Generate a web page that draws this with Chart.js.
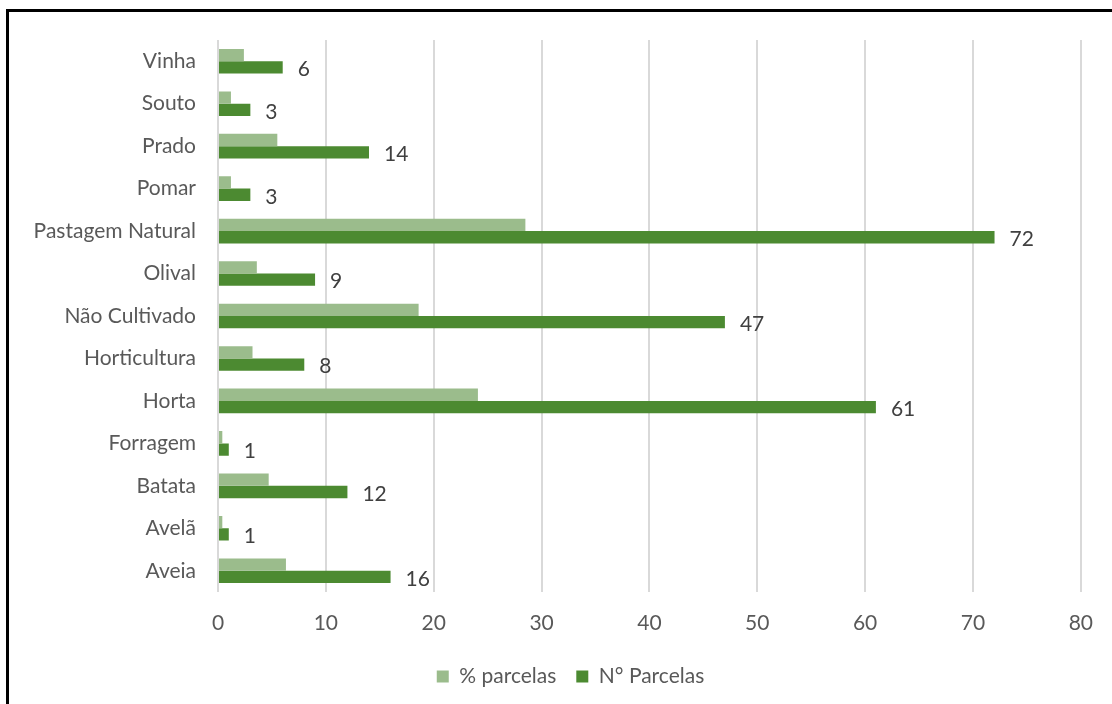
<!DOCTYPE html>
<html>
<head>
<meta charset="utf-8">
<script src="https://cdn.jsdelivr.net/npm/chart.js@4.4.1/dist/chart.umd.min.js"></script>
<style>
  html, body { margin: 0; padding: 0; background: #fff; overflow: hidden; }
  #wrap { position: absolute; left: 0; top: 0; width: 1112px; height: 704px; }
  #frame {
    position: absolute; left: 6px; top: 9px; width: 1200px; height: 800px;
    border-top: 3px solid #000; border-left: 3px solid #000; pointer-events: none;
  }
</style>
</head>
<body>
<div id="wrap"><canvas id="chart" width="1112" height="704"></canvas></div>
<div id="frame"></div>
<script>
// categories, top to bottom as in the picture
const categories = ['Vinha', 'Souto', 'Prado', 'Pomar', 'Pastagem Natural', 'Olival',
  'Não Cultivado', 'Horticultura', 'Horta', 'Forragem', 'Batata', 'Avelã', 'Aveia'];
const pctParcelas = [2.4, 1.2, 5.5, 1.2, 28.5, 3.6, 18.6, 3.2, 24.1, 0.4, 4.7, 0.4, 6.3];
const numParcelas = [6, 3, 14, 3, 72, 9, 47, 8, 61, 1, 12, 1, 16];
const xTicks = [0, 10, 20, 30, 40, 50, 60, 70, 80];

const FONT = 'Lato, "Open Sans", sans-serif';
const TEXT = '#595959';

// draws the value at the end of each dark bar
const barValueLabels = {
  id: 'barValueLabels',
  afterDatasetsDraw(chart) {
    const ctx = chart.ctx;
    const meta = chart.getDatasetMeta(1);
    ctx.save();
    ctx.font = '21px ' + FONT;
    ctx.fillStyle = '#404040';
    ctx.textAlign = 'left';
    ctx.textBaseline = 'middle';
    meta.data.forEach((bar, i) => {
      ctx.fillText(String(numParcelas[i]), bar.x + 15, bar.y + 2);
    });
    ctx.restore();
  }
};

// legend sits a little right of the canvas centre in the picture
const shiftLegend = {
  id: 'shiftLegend',
  afterLayout(chart) {
    if (chart.legend) chart.legend.left = 60;
  }
};

new Chart(document.getElementById('chart').getContext('2d'), {
  type: 'bar',
  data: {
    labels: categories,
    datasets: [
      {
        label: '% parcelas',
        data: pctParcelas,
        backgroundColor: '#9BBC8C',
        categoryPercentage: 0.58,
        barPercentage: 1,
      },
      {
        label: 'N° Parcelas',
        data: numParcelas,
        backgroundColor: '#4C8A31',
        categoryPercentage: 0.58,
        barPercentage: 1,
      }
    ]
  },
  options: {
    indexAxis: 'y',
    responsive: false,
    animation: false,
    layout: { padding: { top: 40, right: 31, bottom: 7, left: 0 } },
    plugins: {
      legend: {
        position: 'bottom',
        labels: {
          color: TEXT,
          font: { family: FONT, size: 21 },
          boxWidth: 12,
          boxHeight: 12,
          padding: 20,
        }
      },
      tooltip: { enabled: false },
    },
    scales: {
      x: {
        min: 0,
        max: 80,
        afterBuildTicks: (s) => { s.ticks = xTicks.map(v => ({ value: v })); },
        afterFit: (s) => { s.height = 54; },
        ticks: { color: TEXT, font: { family: FONT, size: 21 }, padding: 19 },
        grid: { color: '#D9D9D9', lineWidth: 2, drawTicks: false },
        border: { display: false },
      },
      y: {
        afterFit: (s) => { s.width = 218; },
        ticks: { color: TEXT, font: { family: FONT, size: 21 }, padding: 22 },
        grid: { display: false, drawTicks: false },
        border: { display: false },
      }
    }
  },
  plugins: [barValueLabels, shiftLegend]
});
</script>
</body>
</html>
